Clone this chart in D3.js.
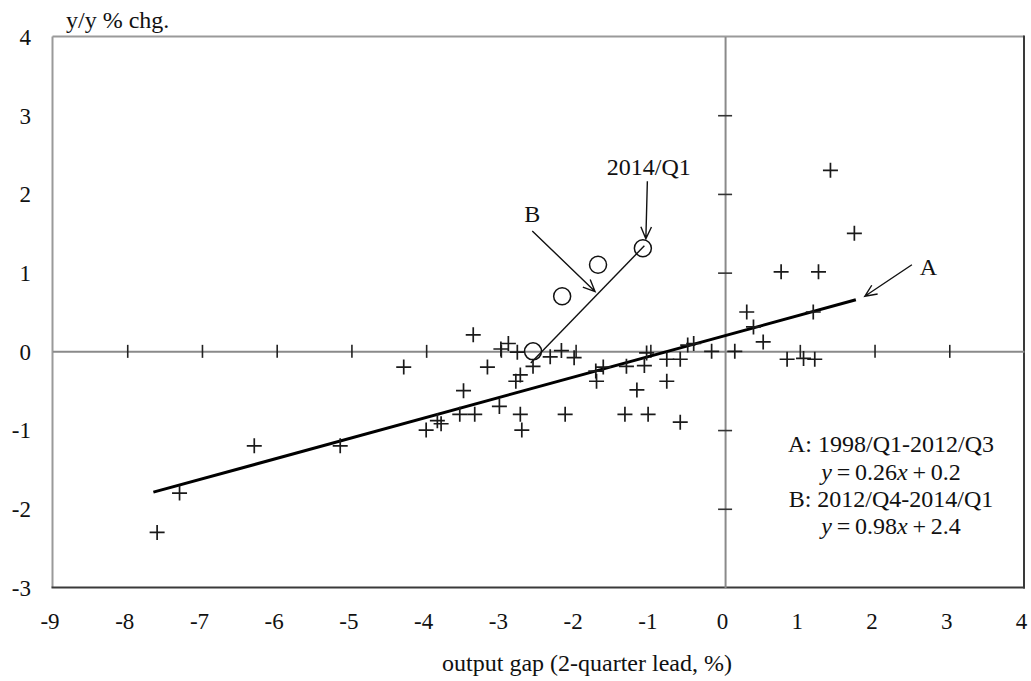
<!DOCTYPE html>
<html>
<head>
<meta charset="utf-8">
<script src="https://cdn.jsdelivr.net/npm/d3@7/dist/d3.min.js"></script>
<style>
  html, body { margin: 0; padding: 0; background: #fff; }
  svg { display: block; }
  text { font-family: "Liberation Serif", "Times New Roman", serif; fill: #111; }
</style>
</head>
<body>
<svg id="chart" width="1031" height="681"></svg>
<script>
// Output gap (2-quarter lead, %) vs. y/y % change

// Period A: 1998/Q1-2012/Q3 (plus markers)
const gapA = [-7.6, -7.3, -6.3, -5.15, -4.3, -4.0, -3.85, -3.8, -3.55, -3.5,
  -3.35, -3.37, -3.18, -3.02, -3.0, -2.9, -2.78, -2.74, -2.8, -2.74,
  -2.72, -2.57, -2.34, -2.19, -2.02, -2.14, -1.73, -1.72, -1.63, -1.32,
  -1.34, -1.18, -1.08, -1.05, -1.03, -0.78, -0.78, -0.6, -0.6, -0.5,
  -0.42, -0.18, 0.13, 0.29, 0.38, 0.51, 0.75, 0.83, 1.05, 1.18,
  1.2, 1.25, 1.41, 1.73];
const chgA = [-2.3, -1.8, -1.2, -1.2, -0.2, -1.0, -0.88, -0.92, -0.8, -0.5,
  -0.8, 0.21, -0.2, -0.7, 0.03, 0.1, -0.01, -0.3, -0.38, -0.8,
  -1.0, -0.19, -0.07, 0.01, -0.08, -0.8, -0.25, -0.38, -0.2, -0.19,
  -0.8, -0.49, -0.18, -0.02, -0.8, -0.1, -0.38, -0.1, -0.9, 0.08,
  0.1, 0.0, 0.0, 0.5, 0.31, 0.12, 1.01, -0.1, -0.09, 0.5,
  -0.1, 1.01, 2.3, 1.5];

// Period B: 2012/Q4-2014/Q1 (circles)
const gapB = [-2.57, -2.18, -1.7, -1.1];
const chgB = [0.0, 0.7, 1.1, 1.31];

// Fitted lines: slope, intercept and the x-range they are drawn over
const fitA = { slope: 0.26, intercept: 0.2, x0: -7.65, x1: 1.75 };
const fitB = { slope: 0.98, intercept: 2.4, x0: -2.6, x1: -1.08 };

// Tick values
const xTickValues = [-9, -8, -7, -6, -5, -4, -3, -2, -1, 0, 1, 2, 3, 4];
const yTickValues = [-3, -2, -1, 0, 1, 2, 3, 4];

const svg = d3.select("#chart");
const plotL = 52.5, plotR = 1024, plotT = 36.5, plotB = 587.5;

const x = d3.scaleLinear().domain([-9, 4]).range([plotL, plotR]);
const y = d3.scaleLinear().domain([-3, 4]).range([plotB, plotT]);

// Plot frame: light top/left edges, dark bottom/right edges
svg.append("line").attr("x1", plotL).attr("x2", plotR).attr("y1", plotT).attr("y2", plotT)
  .attr("stroke", "#9a9a9a").attr("stroke-width", 2);
svg.append("line").attr("x1", plotL).attr("x2", plotL).attr("y1", plotT).attr("y2", plotB)
  .attr("stroke", "#9a9a9a").attr("stroke-width", 2);
svg.append("line").attr("x1", plotR).attr("x2", plotR).attr("y1", plotT - 1).attr("y2", plotB + 1)
  .attr("stroke", "#3a3a3a").attr("stroke-width", 2);
svg.append("line").attr("x1", plotL - 1).attr("x2", plotR + 1).attr("y1", plotB).attr("y2", plotB)
  .attr("stroke", "#3a3a3a").attr("stroke-width", 2);

// Zero lines with crossing tick marks
const xZero = svg.append("g").attr("transform", `translate(0,${y(0)})`)
  .call(d3.axisBottom(x).tickValues(xTickValues.filter(v => v !== 0 && v > -9 && v < 4))
    .tickSize(13).tickSizeOuter(0).tickFormat(""));
xZero.select(".domain").attr("stroke", "#8a8a8a").attr("stroke-width", 2);
xZero.selectAll(".tick line").attr("y1", -6.5).attr("y2", 6.5)
  .attr("stroke", "#222").attr("stroke-width", 1.6);

const yZero = svg.append("g").attr("transform", `translate(${x(0)},0)`)
  .call(d3.axisLeft(y).tickValues(yTickValues.filter(v => v !== 0 && v > -3 && v < 4))
    .tickSize(14).tickSizeOuter(0).tickFormat(""));
yZero.select(".domain").attr("stroke", "#8a8a8a").attr("stroke-width", 2);
yZero.selectAll(".tick line").attr("x1", -7).attr("x2", 7)
  .attr("stroke", "#333").attr("stroke-width", 1.6);

// Tick labels
const xLab = svg.append("g").attr("transform", `translate(-3,${plotB})`)
  .call(d3.axisBottom(x).tickValues(xTickValues).tickSize(0).tickPadding(0)
    .tickFormat(d => String(d)));
xLab.select(".domain").remove();
xLab.selectAll("text").attr("y", 41).attr("dy", 0)
  .style("font-size", "23px").style("font-family", "Liberation Serif").attr("fill", "#111");

const yLab = svg.append("g").attr("transform", `translate(31,0)`)
  .call(d3.axisLeft(y).tickValues(yTickValues).tickSize(0).tickPadding(0)
    .tickFormat(d => String(d)));
yLab.select(".domain").remove();
yLab.selectAll("text").attr("x", 0).attr("dy", "0.34em")
  .style("font-size", "23px").style("font-family", "Liberation Serif").attr("fill", "#111");

// Axis titles
svg.append("text").attr("x", 66).attr("y", 28).style("font-size", "24px").text("y/y % chg.");
svg.append("text").attr("x", 587).attr("y", 671).attr("text-anchor", "middle")
  .style("font-size", "24px").text("output gap (2-quarter lead, %)");

// Fitted lines
const line = d3.line().x(d => x(d[0])).y(d => y(d[1]));
const fitPts = f => [[f.x0, f.slope * f.x0 + f.intercept], [f.x1, f.slope * f.x1 + f.intercept]];
svg.append("path").attr("d", line(fitPts(fitA)))
  .attr("stroke", "#000").attr("stroke-width", 3).attr("fill", "none");
svg.append("path").attr("d", line(fitPts(fitB)))
  .attr("stroke", "#111").attr("stroke-width", 1.4).attr("fill", "none");

// Period A markers
const ptsA = gapA.map((g, i) => [g, chgA[i]]);
svg.append("g").selectAll("path").data(ptsA).join("path")
  .attr("transform", d => `translate(${x(d[0])},${y(d[1])})`)
  .attr("d", "M-7.5,0H7.5M0,-7.5V7.5")
  .attr("stroke", "#1a1a1a").attr("stroke-width", 1.7).attr("fill", "none");

// Period B markers
const ptsB = gapB.map((g, i) => [g, chgB[i]]);
svg.append("g").selectAll("circle").data(ptsB).join("circle")
  .attr("cx", d => x(d[0])).attr("cy", d => y(d[1])).attr("r", 8.5)
  .attr("stroke", "#111").attr("stroke-width", 1.5).attr("fill", "none");

// Callout arrows with open heads
function arrow(from, to) {
  const x0 = x(from[0]), y0 = y(from[1]), x1 = x(to[0]), y1 = y(to[1]);
  const a = Math.atan2(y1 - y0, x1 - x0), len = 13, spread = 0.42;
  const h1 = [x1 - len * Math.cos(a - spread), y1 - len * Math.sin(a - spread)];
  const h2 = [x1 - len * Math.cos(a + spread), y1 - len * Math.sin(a + spread)];
  svg.append("path")
    .attr("d", `M${x0},${y0}L${x1},${y1}M${h1[0]},${h1[1]}L${x1},${y1}L${h2[0]},${h2[1]}`)
    .attr("stroke", "#111").attr("stroke-width", 1.4).attr("fill", "none");
}
arrow([2.5, 1.1], [1.87, 0.7]);
arrow([-2.58, 1.53], [-1.74, 0.76]);
arrow([-1.04, 2.16], [-1.06, 1.43]);

// Callout labels
svg.append("text").attr("x", x(2.72)).attr("y", 275).attr("text-anchor", "middle")
  .style("font-size", "24px").text("A");
svg.append("text").attr("x", x(-2.58)).attr("y", 222).attr("text-anchor", "middle")
  .style("font-size", "24px").text("B");
svg.append("text").attr("x", x(-1.02)).attr("y", 175).attr("text-anchor", "middle")
  .style("font-size", "24px").text("2014/Q1");

// Regression summary
const note = svg.append("g").attr("text-anchor", "middle").style("font-size", "24px");
const cx = 891;
note.append("text").attr("x", cx).attr("y", 452).text("A: 1998/Q1-2012/Q3");
function eq(yy, slope, icpt) {
  const t = note.append("text").attr("x", cx).attr("y", yy);
  t.append("tspan").style("font-style", "italic").text("y");
  t.append("tspan").text("\u2009=\u2009" + slope.toFixed(2));
  t.append("tspan").style("font-style", "italic").text("x");
  t.append("tspan").text("\u2009+\u2009" + icpt.toFixed(1));
}
eq(480, fitA.slope, fitA.intercept);
note.append("text").attr("x", cx).attr("y", 507).text("B: 2012/Q4-2014/Q1");
eq(534, fitB.slope, fitB.intercept);
</script>
</body>
</html>
